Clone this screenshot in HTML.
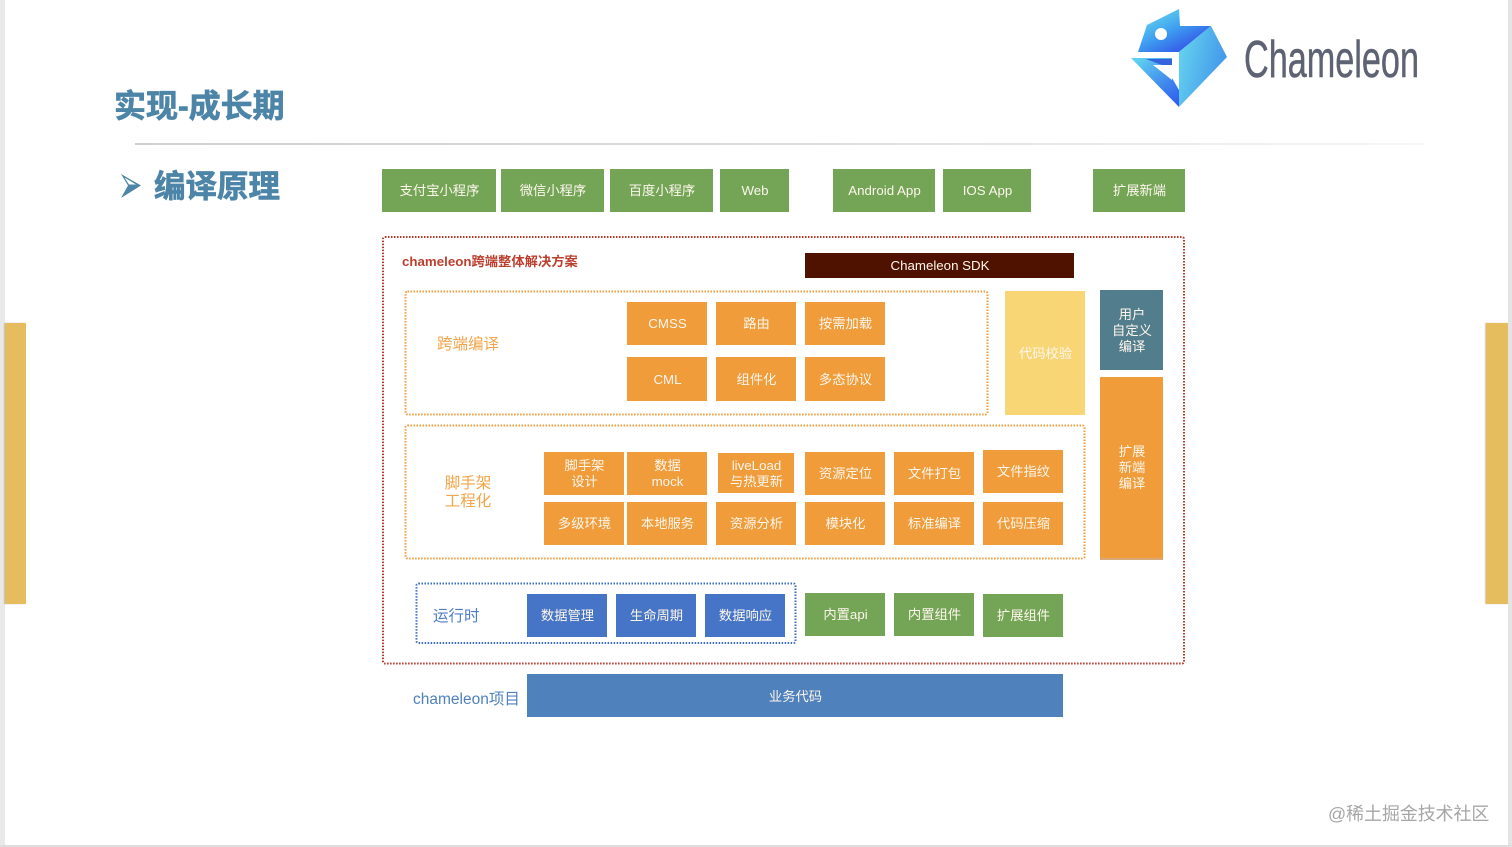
<!DOCTYPE html>
<html lang="zh">
<head>
<meta charset="utf-8">
<title>Chameleon</title>
<style>
html,body{margin:0;padding:0;background:#fff}
body{position:relative;width:1512px;height:847px;overflow:hidden;font-family:"Liberation Sans","Noto Sans CJK SC",sans-serif}
.b{position:absolute;display:flex;align-items:center;justify-content:center;text-align:center;color:#fdf6ec;font-size:13.3px;line-height:16px;box-sizing:border-box;padding:1px 0 0 1px}
.g{background:#74a557}
.o{background:#f09c3a}
.u{background:#4674c6}
.t{position:absolute;white-space:nowrap}
svg{position:absolute;left:0;top:0}
</style>
</head>
<body>
<div style="position:absolute;left:0;top:0;width:5px;height:847px;background:#e9e9e9"></div>
<div style="position:absolute;left:1508px;top:0;width:4px;height:847px;background:#e4e4e4"></div>
<div style="position:absolute;left:0;top:845px;width:1512px;height:2px;background:#dedede"></div>
<div style="position:absolute;left:5px;top:323px;width:21px;height:281px;background:#e6bd5e;box-shadow:-1px 0 1px #bbb"></div>
<div style="position:absolute;left:1486px;top:323px;width:22px;height:281px;background:#e6bd5e;box-shadow:-1px 0 1px #d9c3b0"></div>
<div style="position:absolute;left:135px;top:143px;width:1290px;height:1.500px;background:linear-gradient(to right,#cfcfcf,#dcdcdc 50%,#f7f7f7)"></div>

<svg width="1512" height="847" viewBox="0 0 1512 847">
<defs>
<linearGradient id="a" x1="0.2" y1="0.1" x2="0.75" y2="0.75"><stop offset="0" stop-color="#5fd3ee"/><stop offset="0.55" stop-color="#3f9df0"/><stop offset="1" stop-color="#3566ea"/></linearGradient>
<linearGradient id="c" x1="0" y1="0.2" x2="1" y2="0.6"><stop offset="0" stop-color="#66d4ef"/><stop offset="1" stop-color="#3f92ea"/></linearGradient>
<linearGradient id="d" x1="0.2" y1="0" x2="0.9" y2="1"><stop offset="0" stop-color="#5fd0ee"/><stop offset="0.6" stop-color="#3f86ee"/><stop offset="1" stop-color="#2f5cee"/></linearGradient>
</defs>
<polygon points="1179,9 1147,25 1138,52 1179,52 1211,26 1180,26" fill="url(#a)"/>
<polygon points="1179,52 1211,26 1227,57 1179,107" fill="url(#c)"/>
<polygon points="1131,58 1172,58 1172,78 1179,90 1179,107" fill="url(#d)"/>
<polygon points="1146,59 1172,59 1172,65 1162,65" fill="#3563dd"/>
<polygon points="1153,65 1172,65 1172,80" fill="#fff"/>
<circle cx="1161" cy="34" r="6" fill="#fff"/>
<text x="1244" y="77" font-family="Liberation Sans" font-size="52" fill="#5e6374" stroke="#5e6374" stroke-width="0.5" textLength="175" lengthAdjust="spacingAndGlyphs">Chameleon</text>
<polygon points="121,174 141,185.500 121,198 128,185.500" fill="#4d85a8"/>
<polygon points="124.500,177.500 136,184.500 129,184.500" fill="#fff"/>
<rect x="383" y="237" width="801" height="426.500" rx="2" fill="none" stroke="#b8362a" stroke-width="2" stroke-dasharray="1.500 1.500"/>
<rect x="405.500" y="291.500" width="582" height="123" rx="2" fill="none" stroke="#f09c3a" stroke-width="2" stroke-dasharray="1.500 1.500"/>
<rect x="405.500" y="425.500" width="679" height="133" rx="2" fill="none" stroke="#f09c3a" stroke-width="2" stroke-dasharray="1.500 1.500"/>
<rect x="416.500" y="583.500" width="379" height="59.500" rx="2" fill="none" stroke="#3f6cc4" stroke-width="2" stroke-dasharray="1.500 1.500"/>
</svg>

<div class="t" style="left:114px;top:86px;font-size:32px;line-height:40px;font-weight:700;color:#4d85a8;-webkit-text-stroke:.7px #4d85a8">实现-成长期</div>
<div class="t" style="left:154px;top:166px;font-size:31.500px;line-height:40px;font-weight:700;color:#4d85a8;-webkit-text-stroke:.7px #4d85a8">编译原理</div>

<div class="b g" style="left:382px;top:169px;width:114px;height:43px">支付宝小程序</div>
<div class="b g" style="left:501px;top:169px;width:103px;height:43px">微信小程序</div>
<div class="b g" style="left:610px;top:169px;width:103px;height:43px">百度小程序</div>
<div class="b g" style="left:720px;top:169px;width:69px;height:43px">Web</div>
<div class="b g" style="left:833px;top:169px;width:102px;height:43px">Android App</div>
<div class="b g" style="left:943px;top:169px;width:88px;height:43px">IOS App</div>
<div class="b g" style="left:1093px;top:169px;width:92px;height:43px">扩展新端</div>

<div class="t" style="left:402px;top:253px;font-size:13.300px;line-height:18px;font-weight:700;color:#bb3f2e">chameleon跨端整体解决方案</div>
<div class="b" style="left:805px;top:253px;width:269px;height:25px;background:#4f1200">Chameleon SDK</div>

<div class="t" style="left:437px;top:335px;font-size:15.500px;line-height:20px;color:#f3a447">跨端编译</div>
<div class="b o" style="left:627px;top:302px;width:80px;height:43px">CMSS</div>
<div class="b o" style="left:716px;top:302px;width:80px;height:43px">路由</div>
<div class="b o" style="left:805px;top:302px;width:80px;height:43px">按需加载</div>
<div class="b o" style="left:627px;top:357px;width:80px;height:44px">CML</div>
<div class="b o" style="left:716px;top:357px;width:80px;height:44px">组件化</div>
<div class="b o" style="left:805px;top:357px;width:80px;height:44px">多态协议</div>

<div class="b" style="left:1005px;top:291px;width:80px;height:124px;background:#f8d675">代码校验</div>
<div class="b" style="left:1100px;top:290px;width:63px;height:80px;background:#527d8d">用户<br>自定义<br>编译</div>
<div class="b o" style="left:1100px;top:377px;width:63px;height:183px;border-bottom:2px solid #d9a878">扩展<br>新端<br>编译</div>

<div class="t" style="left:444px;top:475px;width:48px;text-align:center;font-size:15.500px;line-height:18px;color:#f3a447">脚手架<br>工程化</div>
<div class="b o" style="left:544px;top:452px;width:80px;height:43px">脚手架<br>设计</div>
<div class="b o" style="left:627px;top:452px;width:80px;height:43px">数据<br>mock</div>
<div class="b o" style="left:718px;top:453px;width:76px;height:40px">liveLoad<br>与热更新</div>
<div class="b o" style="left:805px;top:452px;width:80px;height:43px">资源定位</div>
<div class="b o" style="left:894px;top:452px;width:80px;height:43px">文件打包</div>
<div class="b o" style="left:983px;top:450px;width:80px;height:43px">文件指纹</div>
<div class="b o" style="left:544px;top:502px;width:80px;height:43px">多级环境</div>
<div class="b o" style="left:627px;top:502px;width:80px;height:43px">本地服务</div>
<div class="b o" style="left:716px;top:502px;width:80px;height:43px">资源分析</div>
<div class="b o" style="left:805px;top:502px;width:80px;height:43px">模块化</div>
<div class="b o" style="left:894px;top:502px;width:80px;height:43px">标准编译</div>
<div class="b o" style="left:983px;top:502px;width:80px;height:43px">代码压缩</div>

<div class="t" style="left:433px;top:607px;font-size:15.500px;line-height:20px;color:#4f7cc8">运行时</div>
<div class="b u" style="left:527px;top:594px;width:80px;height:43px">数据管理</div>
<div class="b u" style="left:616px;top:594px;width:80px;height:43px">生命周期</div>
<div class="b u" style="left:705px;top:594px;width:80px;height:43px">数据响应</div>
<div class="b g" style="left:805px;top:593px;width:80px;height:43px">内置api</div>
<div class="b g" style="left:894px;top:593px;width:80px;height:43px">内置组件</div>
<div class="b g" style="left:983px;top:594px;width:80px;height:43px">扩展组件</div>

<div class="t" style="left:413px;top:690px;font-size:15.500px;line-height:20px;color:#4f81bd">chameleon项目</div>
<div class="b" style="left:527px;top:674px;width:536px;height:43px;background:#4f81bd;padding-top:2px">业务代码</div>

<div class="t" style="left:1328px;top:803px;font-size:17.900px;line-height:22px;color:#a6a6a6">@稀土掘金技术社区</div>
</body>
</html>
